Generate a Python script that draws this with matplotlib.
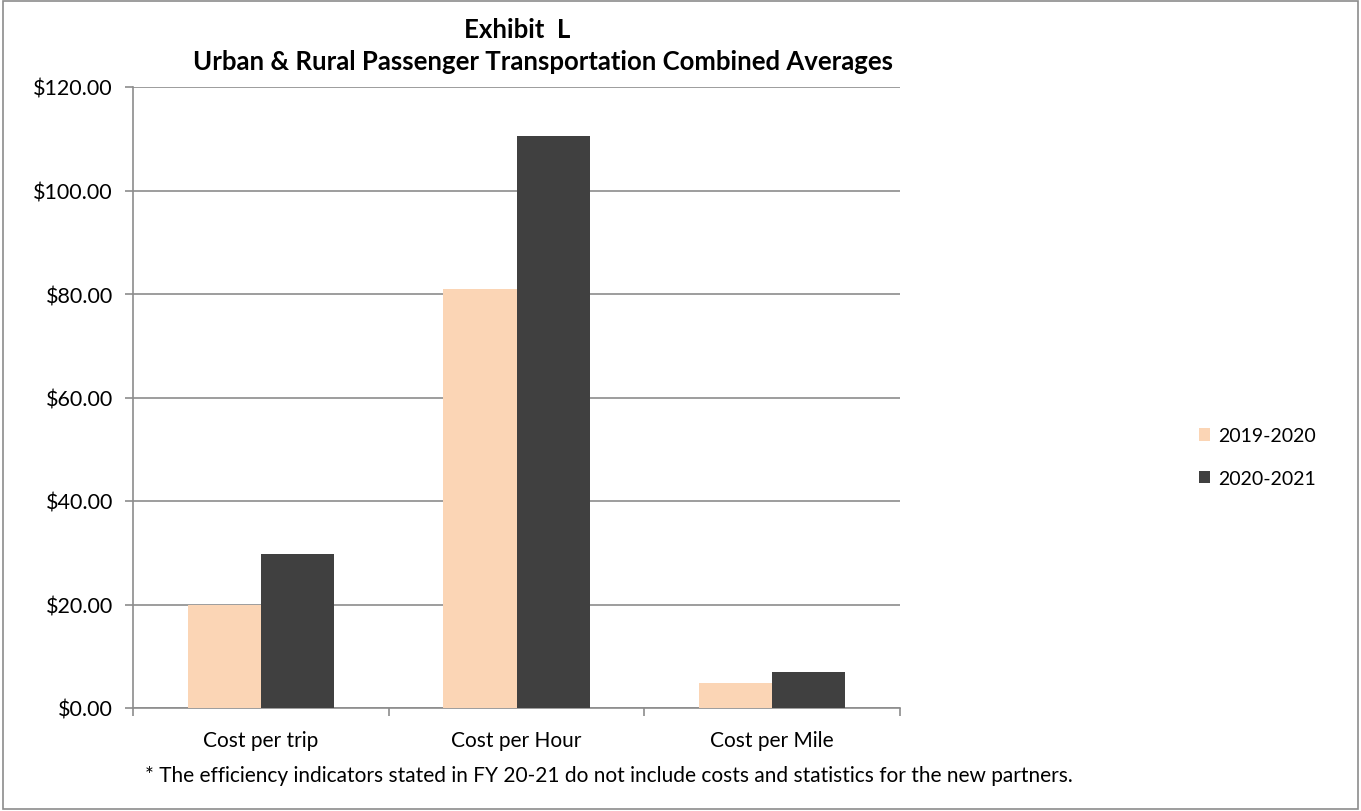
import matplotlib.pyplot as plt
from matplotlib.ticker import FuncFormatter, MultipleLocator
from matplotlib.patches import Rectangle
import numpy as np

plt.rcParams['font.family'] = ['Lato', 'DejaVu Sans']

# averages by indicator
categories = ['Cost per trip', 'Cost per Hour', 'Cost per Mile']
fy_2019_20 = [19.94, 81.0, 4.89]
fy_2020_21 = [29.77, 110.6, 7.01]
series_names = ['2019-2020', '2020-2021']
colors = ['#FBD5B5', '#404040']

fig = plt.figure(figsize=(13.61, 8.12), dpi=100)
ax = fig.add_axes([133/1361, 103/812, 767/1361, 621/812])

x = np.arange(len(categories))
w = 1 / 3.5   # gap width 150%
ax.bar(x - w/2, fy_2019_20, w, color=colors[0], label=series_names[0], zorder=3)
ax.bar(x + w/2, fy_2020_21, w, color=colors[1], label=series_names[1], zorder=3)

ax.set_xlim(-0.5, len(categories) - 0.5)
ax.set_ylim(0, 120)
ax.yaxis.set_major_locator(MultipleLocator(20))
ax.yaxis.set_major_formatter(FuncFormatter(lambda v, p: r'\$%.2f' % v))
ax.grid(axis='y', color='#8c8c8c', lw=1.2, zorder=0)

# category labels centred, tick marks between categories
ax.set_xticks(x)
ax.set_xticklabels(categories, fontsize=15)
ax.tick_params(axis='x', length=0, pad=16)
ax.set_xticks(np.arange(-0.5, len(categories)), minor=True)
ax.tick_params(axis='x', which='minor', length=6, color='#8c8c8c', width=1.2)
ax.tick_params(axis='y', labelsize=15.5, length=6, color='#8c8c8c', width=1.2, pad=8.5)

for s in ['top', 'right']:
    ax.spines[s].set_visible(False)
for s in ['left', 'bottom']:
    ax.spines[s].set_color('#8c8c8c')
    ax.spines[s].set_linewidth(1.2)

fig.text(517/1361, 1 - 30/812, 'Exhibit  L', ha='center', va='center',
         fontsize=18.5, fontweight='bold')
fig.text(543/1361, 1 - 62/812,
         'Urban & Rural Passenger Transportation Combined Averages',
         ha='center', va='center', fontsize=18.5, fontweight='bold')

fig.text(145/1361, 1 - 776/812,
         '* The efficiency indicators stated in FY 20-21 do not include costs and statistics for the new partners.',
         ha='left', va='center', fontsize=15)

fig.legend(loc='center left', bbox_to_anchor=(1181/1361, 1 - 458/812),
           frameon=False, fontsize=14, handlelength=0.6, handleheight=0.6,
           handletextpad=0.4, labelspacing=1.3)

# chart area border
fig.patches.append(Rectangle((0.002, 0.002), 0.996, 0.996, transform=fig.transFigure,
                             fill=False, edgecolor='#8c8c8c', lw=1.2))

fig.savefig('out.png', dpi=100)
